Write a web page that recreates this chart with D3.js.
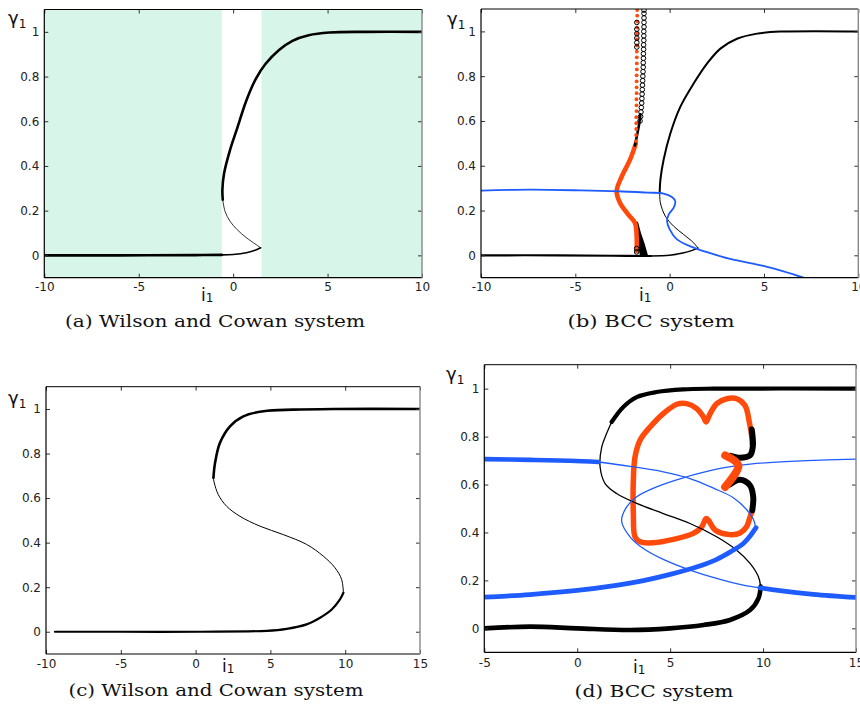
<!DOCTYPE html>
<html><head><meta charset="utf-8">
<script src="https://cdn.jsdelivr.net/npm/d3@7"></script>
<style>body{margin:0;background:#fff}</style>
</head><body>
<svg id="c" width="860" height="709" xmlns="http://www.w3.org/2000/svg"></svg>
<script>
// ---------- tick data ----------
const yTicks = [0, 0.2, 0.4, 0.6, 0.8, 1];
const yTickLabels = ["0", "0.2", "0.4", "0.6", "0.8", "1"];
const xTicksAB = [-10, -5, 0, 5, 10];
const xTicksC = [-10, -5, 0, 5, 10, 15];
const xTicksD = [-5, 0, 5, 10, 15];

// ---------- panel (a) Wilson & Cowan ----------
const aShade = [[-10, -0.6], [1.5, 10]];
const aLowerThick = [[-10, 0], [-6, 0], [-2, 0.001], [-0.6, 0.002]];
const aLowerThin = [[-0.6, 0.002], [0, 0.004], [0.7, 0.012], [1.2, 0.024], [1.46, 0.034]];
const aMiddle = [[1.46, 0.034], [1.2, 0.049], [0.7, 0.079], [0.2, 0.116], [-0.17, 0.153], [-0.43, 0.197], [-0.55, 0.249]];
const aUpper = [[-0.55, 0.249], [-0.57, 0.293], [-0.48, 0.367], [-0.17, 0.47], [0.18, 0.56], [0.7, 0.693], [1.2, 0.79], [1.72, 0.857], [2.43, 0.919], [3.14, 0.96], [4.0, 0.985], [5.1, 0.997], [7, 1], [10, 1]];

// ---------- panel (b) BCC ----------
const bLowerThick = [[-10, 0], [-6, 0], [-3, -0.002], [-1, -0.003]];
const bLowerThin = [[-1, -0.003], [0, 0], [0.7, 0.01], [1.2, 0.022], [1.5, 0.032]];
const bMiddle = [[1.5, 0.032], [1.27, 0.056], [0.74, 0.093], [0.21, 0.13], [-0.23, 0.175], [-0.49, 0.234], [-0.53, 0.279]];
const bUpper = [[-0.53, 0.279], [-0.49, 0.338], [-0.32, 0.427], [0.04, 0.545], [0.57, 0.664], [1.27, 0.767], [1.98, 0.856], [2.69, 0.923], [3.57, 0.967], [4.63, 0.99], [5.87, 0.999], [10, 1]];
const bBlue = [[-10, 0.289], [-7.4, 0.293], [-4.73, 0.29], [-2.79, 0.286], [-1.2, 0.28], [-0.32, 0.276], [0.12, 0.26], [0.3, 0.241], [0.21, 0.212], [-0.05, 0.182], [-0.14, 0.153], [0, 0.116], [0.39, 0.071], [1.1, 0.04], [1.98, 0.014], [3.2, -0.016], [4.98, -0.047], [6.04, -0.072], [7.1, -0.1]];
const bRed = [[-1.75, 0.02], [-1.75, 0.086], [-1.84, 0.145], [-2.19, 0.182], [-2.63, 0.234], [-2.81, 0.286], [-2.54, 0.352], [-2.10, 0.427], [-1.79, 0.50]];
const bRedDots = [[-1.78, 0.51], [-1.78, 0.537], [-1.77, 0.564], [-1.77, 0.59], [-1.77, 0.617], [-1.76, 0.644], [-1.76, 0.67], [-1.76, 0.697], [-1.75, 0.724], [-1.75, 0.75], [-1.75, 0.777], [-1.75, 0.804], [-1.74, 0.83], [-1.74, 0.857], [-1.74, 0.884], [-1.74, 0.91], [-1.73, 0.937], [-1.73, 0.964], [-1.73, 0.99], [-1.73, 1.017], [-1.72, 1.044], [-1.72, 1.07], [-1.72, 1.095]];
const bBlackStem = [[-1.84, 0.49], [-1.72, 0.54], [-1.61, 0.59], [-1.55, 0.63]];
const bOpenCircles = [[-1.57, 0.6], [-1.54, 0.62], [-1.52, 0.64], [-1.5, 0.66], [-1.48, 0.68], [-1.47, 0.7], [-1.46, 0.72], [-1.45, 0.74], [-1.44, 0.76], [-1.43, 0.78], [-1.42, 0.8], [-1.41, 0.82], [-1.4, 0.84], [-1.4, 0.86], [-1.39, 0.88], [-1.39, 0.9], [-1.38, 0.92], [-1.38, 0.94], [-1.37, 0.96], [-1.37, 0.98], [-1.37, 1.0], [-1.36, 1.02], [-1.36, 1.04], [-1.36, 1.06], [-1.36, 1.08], [-1.36, 1.095],
  [-1.74, 0.93], [-1.74, 0.95], [-1.74, 0.97], [-1.74, 0.99], [-1.74, 1.01], [-1.74, 1.04], [-1.75, 0.03], [-1.75, 0.015]];
const bWedge = [[-1.8, 0.15], [-1.77, 0.10], [-1.68, 0.05], [-1.58, 0.0], [-1.15, 0.0], [-1.32, 0.05], [-1.52, 0.10], [-1.68, 0.15]];

// ---------- panel (c) Wilson & Cowan ----------
const cLower = [[-9.4, 0], [-5, 0], [0.29, 0], [4.75, 0.004], [6.09, 0.013], [7.42, 0.033], [8.32, 0.063], [9.1, 0.1], [9.65, 0.145], [9.88, 0.175]];
const cMiddle = [[9.88, 0.175], [9.76, 0.235], [9.32, 0.287], [8.54, 0.339], [7.42, 0.392], [5.86, 0.436], [4.3, 0.474], [2.97, 0.518], [2.08, 0.563], [1.52, 0.615], [1.25, 0.668], [1.19, 0.69]];
const cUpper = [[1.19, 0.69], [1.30, 0.758], [1.63, 0.848], [2.30, 0.922], [3.19, 0.967], [4.53, 0.99], [6.53, 0.997], [9.2, 1], [15, 1]];

// ---------- panel (d) BCC ----------
const dBlackLower = [[-5, 0], [-2.54, 0.007], [0, 0], [2.84, -0.007], [5, 0], [6.8, 0.014], [8.22, 0.035], [9.3, 0.076], [9.75, 0.125], [9.87, 0.174]];
const dBlackMiddle = [[9.87, 0.174], [9.75, 0.215], [9.3, 0.271], [8.58, 0.326], [7.5, 0.382], [6.07, 0.4375], [4.63, 0.479], [3.2, 0.521], [2.12, 0.5625], [1.5, 0.604], [1.23, 0.674], [1.32, 0.757], [1.58, 0.8125], [1.85, 0.861]];
const dBlackUpper = [[1.85, 0.861], [2.48, 0.924], [3.2, 0.965], [4.27, 0.986], [5.7, 0.997], [7.33, 1], [15, 1]];
const dBlueAThick1 = [[-5, 0.706], [-2.54, 0.703], [-0.39, 0.699], [1.14, 0.694]];
const dBlueAThin = [[1.14, 0.694], [2.84, 0.676], [4.63, 0.653], [6.07, 0.625], [7.33, 0.585], [8.4, 0.545], [9.12, 0.495], [9.48, 0.455], [9.6, 0.42]];
const dBlueAThick2 = [[9.62, 0.42], [9.3, 0.385], [8.94, 0.354], [8.22, 0.318], [7.51, 0.288], [6.5, 0.258], [5.0, 0.225], [3.56, 0.199], [2.0, 0.178], [0, 0.158], [-2.54, 0.141], [-5, 0.13]];
const dBlueBThick = [[15, 0.129], [12.7, 0.142], [10.9, 0.157], [9.83, 0.169]];
const dBlueBThin = [[9.83, 0.169], [8.94, 0.18], [7.5, 0.208], [6.07, 0.243], [4.63, 0.2875], [3.56, 0.333], [2.84, 0.382], [2.39, 0.447], [2.66, 0.507], [3.2, 0.549], [4.27, 0.59], [5.7, 0.628], [7.5, 0.664], [9.3, 0.685], [11.8, 0.698], [15, 0.706]];
const dRedLoop = [[9.42, 0.49], [9.3, 0.465], [9.12, 0.425], [8.76, 0.398], [8.22, 0.391], [7.42, 0.41], [7.06, 0.451], [6.93, 0.458], [6.70, 0.423], [6.25, 0.396], [5.17, 0.371], [4.1, 0.357], [3.38, 0.361], [3.11, 0.382], [3.02, 0.479], [3.02, 0.618], [3.11, 0.715], [3.38, 0.785], [3.92, 0.84], [4.63, 0.896], [5.36, 0.935], [5.89, 0.9375], [6.43, 0.917], [6.79, 0.882], [6.93, 0.861], [7.15, 0.896], [7.51, 0.9375], [8.05, 0.958], [8.58, 0.958], [9.03, 0.93], [9.26, 0.86], [9.39, 0.8], [9.42, 0.77]];
const dBlackHookTop = [[9.39, 0.83], [9.45, 0.76], [9.3, 0.722], [8.76, 0.712], [8.25, 0.72]];
const dRedChevron = [[7.96, 0.722], [8.67, 0.68], [7.96, 0.59]];
const dBlackHookBottom = [[8.2, 0.6], [8.75, 0.62], [9.29, 0.597], [9.47, 0.548], [9.42, 0.493]];

// ---------- captions ----------
const captions = ["(a) Wilson and Cowan system", "(b) BCC system", "(c) Wilson and Cowan system", "(d) BCC system"];

// ---------- drawing ----------
const BLACK = "#000", BLUE = "#1f5cff", RED = "#ff4a0c", GREEN = "#d8f5ea";
const svg = d3.select("#c");

function panel(p) {
  const x = d3.scaleLinear().domain(p.xd).range([p.l, p.r]);
  const y = d3.scaleLinear().domain([-0.1, 1.1]).range([p.b, p.t]);
  const g = svg.append("g");
  const clipId = "clip" + p.id;
  svg.append("clipPath").attr("id", clipId).append("rect")
    .attr("x", p.l).attr("y", p.t).attr("width", p.r - p.l).attr("height", p.b - p.t);
  const plot = g.append("g").attr("clip-path", `url(#${clipId})`);
  const line = d3.line().x(d => x(d[0])).y(d => y(d[1])).curve(d3.curveCatmullRom.alpha(0.5));
  function draw(data, color, w, cap) {
    plot.append("path").attr("d", line(data)).attr("fill", "none")
      .attr("stroke", color).attr("stroke-width", w)
      .attr("stroke-linecap", cap || "round").attr("stroke-linejoin", "round");
  }
  return { x, y, g, plot, draw, p };
}

function frame(P, xTicks) {
  const { x, y, g, p } = P;
  const fix = sel => { sel.select(".domain").remove(); sel.attr("font-family", "DejaVu Sans").attr("font-size", 12); sel.selectAll("line").attr("stroke", "#333"); sel.selectAll("text").attr("fill", "#222"); };
  g.append("g").attr("transform", `translate(${p.l},0)`)
    .call(d3.axisLeft(y).tickValues(yTicks).tickFormat((d, i) => yTickLabels[i]).tickSize(-4).tickPadding(5)).call(fix);
  g.append("g").attr("transform", `translate(${p.r},0)`)
    .call(d3.axisRight(y).tickValues(yTicks).tickFormat("").tickSize(-4)).call(fix);
  g.append("g").attr("transform", `translate(0,${p.b})`)
    .call(d3.axisBottom(x).tickValues(xTicks).tickFormat(d => String(d)).tickSize(-4).tickPadding(p.xpad)).call(fix);
  g.append("g").attr("transform", `translate(0,${p.t})`)
    .call(d3.axisTop(x).tickValues(xTicks).tickFormat("").tickSize(-4)).call(fix);
  g.append("line").attr("x1", p.l).attr("x2", p.r).attr("y1", p.t).attr("y2", p.t).attr("stroke", "#000").attr("stroke-width", 1);
  g.append("line").attr("x1", p.l).attr("x2", p.r).attr("y1", p.b).attr("y2", p.b).attr("stroke", "#000").attr("stroke-width", 1.2);
  g.append("line").attr("x1", p.l).attr("x2", p.l).attr("y1", p.t).attr("y2", p.b).attr("stroke", "#000").attr("stroke-width", 1.2);
  g.append("line").attr("x1", p.r).attr("x2", p.r).attr("y1", p.t).attr("y2", p.b).attr("stroke", "#888").attr("stroke-width", 1.4);
  // axis titles
  const gy = g.append("text").attr("x", p.gx).attr("y", p.gy).attr("font-family", "DejaVu Sans").attr("fill", "#111");
  gy.append("tspan").attr("font-size", 18).text("γ");
  gy.append("tspan").attr("font-size", 12).attr("dy", 4).text("1");
  const ix = g.append("text").attr("x", p.ix).attr("y", p.iy).attr("font-family", "DejaVu Sans").attr("fill", "#111");
  ix.append("tspan").attr("font-size", 17).text("i");
  ix.append("tspan").attr("font-size", 12).attr("dy", 1).text("1");
  // caption
  svg.append("text").attr("x", p.cx).attr("y", p.cy).attr("text-anchor", "middle")
    .attr("font-family", "DejaVu Serif").attr("font-size", 17).attr("fill", "#111")
    .attr("textLength", p.cw).attr("lengthAdjust", "spacingAndGlyphs").text(p.caption);
}

// panel a
const A = panel({ id: "a", l: 44.3, r: 422, t: 9.5, b: 277.7, xd: [-10, 10],
  xpad: 5, gx: 8, gy: 24, ix: 201, iy: 301, cx: 215, cy: 327, cw: 300, caption: captions[0] });
aShade.forEach(s => A.plot.append("rect").attr("x", A.x(s[0])).attr("y", A.p.t).attr("width", A.x(s[1]) - A.x(s[0])).attr("height", A.p.b - A.p.t).attr("fill", GREEN));
A.draw(aMiddle, BLACK, 0.8);
A.draw(aLowerThin, BLACK, 1.6);
A.draw(aLowerThick, BLACK, 2.6);
A.draw(aUpper, BLACK, 2.6);

// panel b
const B = panel({ id: "b", l: 481, r: 858.3, t: 9, b: 277.7, xd: [-10, 10],
  xpad: 5, gx: 447, gy: 25, ix: 639, iy: 301, cx: 651, cy: 327, cw: 167, caption: captions[1] });
B.draw(bMiddle, BLACK, 1);
B.draw(bLowerThin, BLACK, 1.5);
B.draw(bLowerThick, BLACK, 2.2);
B.draw(bUpper, BLACK, 2);
B.plot.append("path").attr("d", d3.line().x(d => B.x(d[0])).y(d => B.y(d[1]))(bWedge) + "Z").attr("fill", BLACK);
B.draw(bRed, RED, 4.6);
B.draw(bBlackStem, BLACK, 2.6);
B.plot.selectAll(null).data(bRedDots).enter().append("circle")
  .attr("cx", d => B.x(d[0])).attr("cy", d => B.y(d[1])).attr("r", 1.9).attr("fill", RED);
B.plot.selectAll(null).data(bOpenCircles).enter().append("circle")
  .attr("cx", d => B.x(d[0])).attr("cy", d => B.y(d[1])).attr("r", 2.3).attr("fill", "none").attr("stroke", BLACK).attr("stroke-width", 1);
B.draw(bBlue, BLUE, 1.8);

// panel c
const C = panel({ id: "c", l: 46, r: 420, t: 386.7, b: 654, xd: [-10, 15],
  xpad: 5, gx: 8, gy: 404, ix: 222, iy: 672, cx: 216, cy: 696, cw: 295, caption: captions[2] });
C.draw(cMiddle, BLACK, 1);
C.draw(cLower, BLACK, 2.2);
C.draw(cUpper, BLACK, 2.6);

// panel d
const D = panel({ id: "d", l: 484.3, r: 856, t: 364.7, b: 652.3, xd: [-5, 15],
  xpad: 6, gx: 446, gy: 380, ix: 633, iy: 673, cx: 654, cy: 697, cw: 159, caption: captions[3] });
D.draw(dRedLoop, RED, 5.5);
D.draw(dBlackMiddle, BLACK, 1.3);
D.draw(dBlackLower, BLACK, 4.6);
D.draw(dBlackUpper, BLACK, 4.2);
D.draw(dBlueAThin, BLUE, 1.3);
D.draw(dBlueBThin, BLUE, 1.3);
D.draw(dBlueAThick1, BLUE, 4.6);
D.draw(dBlueAThick2, BLUE, 4.8);
D.draw(dBlueBThick, BLUE, 4.8);
D.draw(dBlackHookTop, BLACK, 6);
D.draw(dBlackHookBottom, BLACK, 6);
D.draw(dRedChevron, RED, 8);

frame(A, xTicksAB);
frame(B, xTicksAB);
frame(C, xTicksC);
frame(D, xTicksD);
</script></body></html>
